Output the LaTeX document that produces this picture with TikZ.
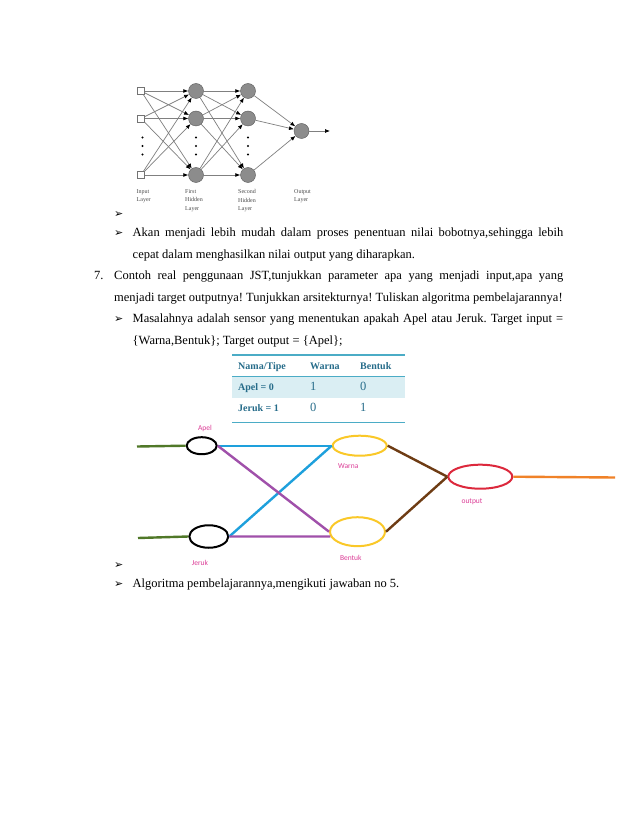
\documentclass[tikz,border=0pt]{standalone}
\usepackage{fontspec}
\setmainfont{Liberation Serif}
\newfontfamily\dejavu{DejaVu Sans}
\newfontfamily\calibri{Carlito}
\usepackage{tikz}
\usetikzlibrary{arrows.meta, shapes.geometric}
\frenchspacing

\definecolor{tabline}{RGB}{75,172,198}
\definecolor{tabtext}{RGB}{38,108,138}
\definecolor{tabshade}{RGB}{218,238,243}
\definecolor{leafgreen}{RGB}{80,120,40}
\definecolor{skyblue}{RGB}{30,160,220}
\definecolor{grape}{RGB}{160,80,170}
\definecolor{gold}{RGB}{250,200,40}
\definecolor{rust}{RGB}{110,60,20}
\definecolor{cherry}{RGB}{220,40,60}
\definecolor{tangerine}{RGB}{240,130,40}
\definecolor{pinklabel}{RGB}{220,60,150}

\begin{document}
\begin{tikzpicture}[
  x=1pt, y=-1pt,
  font=\fontsize{12.5}{21.5}\selectfont,
  txt/.style={anchor=base west, inner sep=0pt},
  bul/.style={anchor=base west, inner sep=0pt, font=\dejavu\fontsize{11}{11}\selectfont},
  inp/.style={rectangle, draw=black!55, fill=white, minimum size=7pt, inner sep=0pt},
  neu/.style={circle, draw=black!65, fill=black!45, minimum size=15pt, inner sep=0pt},
  layer/.style={anchor=north west, inner sep=0pt, align=left, text=black!70,
                font=\fontsize{6}{8.3}\selectfont},
  arr/.style={-{Latex[length=5pt, width=4pt, color=black]}, draw=black!50, line width=0.7pt},
  cell/.style={anchor=base west, inner sep=0pt, text=tabtext},
  ell/.style={ellipse, line width=2pt, inner sep=0pt},
  wire/.style={line width=2.4pt},
  tag/.style={inner sep=0pt, text=pinklabel, font=\calibri\fontsize{7.5}{7.5}\selectfont}
]
\useasboundingbox (0,0) rectangle (638,826);
\fill[white] (0,0) rectangle (638,826);

% layered network
\foreach \i/\yy in {1/91,2/118.5,3/175} {
  \node[inp] (in\i) at (141,\yy) {};
  \node[neu] (ha\i) at (196,\yy) {};
  \node[neu] (hb\i) at (248,\yy) {};
}
\node[neu] (out) at (301.5,131) {};
\coordinate (outend) at (330,131);

\foreach \a in {1,2,3}
  \foreach \b in {1,2,3} {
    \draw[arr] (in\a) -- (ha\b);
    \draw[arr] (ha\a) -- (hb\b);
  }
\foreach \a in {1,2,3}
  \draw[arr] (hb\a) -- (out);
\draw[arr] (out) -- (outend);

\foreach \xx in {142.5,196,248}
  \foreach \yy in {137.5,146,154.5}
    \fill (\xx,\yy) circle (1.2pt);

\node[layer] (lin) at (136.5,189.5) {Input\\Layer};
\node[layer] (lh1) at (185,189.5) {First\\Hidden\\Layer};
\node[layer] (lh2) at (238,189.5) {Second\\Hidden\\Layer};
\node[layer] (lout) at (294,189.5) {Output\\Layer};

% text
\node[bul] (b1) at (114,217.5) {➢};
\node[bul] (b2) at (114,236.5) {➢};
\node[txt] (l1) at (132.5,236.5) {\makebox[430.5pt][s]{Akan menjadi lebih mudah dalam proses penentuan nilai bobotnya,sehingga lebih}};
\node[txt] (l2) at (132.5,258) {cepat dalam menghasilkan nilai output yang diharapkan.};
\node[txt] (n7) at (94,279.5) {7.};
\node[txt] (l3) at (114,279.5) {\makebox[449pt][s]{Contoh real penggunaan JST,tunjukkan parameter apa yang menjadi input,apa yang}};
\node[txt] (l4) at (114,301) {menjadi target outputnya! Tunjukkan arsitekturnya! Tuliskan algoritma pembelajarannya!};
\node[bul] (b3) at (114,322.5) {➢};
\node[txt] (l5) at (132.5,322.5) {\makebox[430.5pt][s]{Masalahnya adalah sensor yang menentukan apakah Apel atau Jeruk. Target input =}};
\node[txt] (l6) at (132.5,344) {\{Warna,Bentuk\}; Target output = \{Apel\};};

% table
\fill[tabshade] (232,377) rectangle (405,397.5);
\draw[tabline, line width=1.2pt] (232,355) -- (405,355);
\draw[tabline, line width=1.2pt] (232,376.5) -- (405,376.5);
\draw[tabline, line width=1.2pt] (232,422.5) -- (405,422.5);
\node[cell, font=\bfseries] (h1) at (238,369) {Nama/Tipe};
\node[cell, font=\bfseries] (h2) at (310,369) {Warna};
\node[cell, font=\bfseries] (h3) at (360,369) {Bentuk};
\node[cell, font=\bfseries] (r1) at (238,390) {Apel = 0};
\node[cell] (r1a) at (310,390) {1};
\node[cell] (r1b) at (360,390) {0};
\node[cell, font=\bfseries] (r2) at (238,411) {Jeruk = 1};
\node[cell] (r2a) at (310,411) {0};
\node[cell] (r2b) at (360,411) {1};

% apel / jeruk network
\node[ell, draw=black, minimum width=30pt, minimum height=17pt] (apel) at (201.7,445.7) {};
\node[ell, draw=black, minimum width=39pt, minimum height=22.5pt] (jeruk) at (208.8,536.5) {};
\node[ell, draw=gold, minimum width=54pt, minimum height=20pt] (warna) at (359.7,445.7) {};
\node[ell, draw=gold, minimum width=55pt, minimum height=29pt] (bentuk) at (357.5,531.7) {};
\node[ell, draw=cherry, minimum width=64pt, minimum height=24pt] (output) at (480.3,476.7) {};

\coordinate (apelin) at (137,446.5);
\coordinate (jerukin) at (138,538);
\coordinate (outline) at (615,477.5);

\draw[wire, leafgreen] (apelin) -- (apel.west);
\draw[wire, leafgreen] (jerukin) -- (jeruk.west);
\draw[wire, skyblue] (apel.east) -- (warna.west);
\draw[wire, skyblue] (warna.west) -- (jeruk.east);
\draw[wire, grape] (apel.east) -- (bentuk.west);
\draw[wire, grape] (jeruk.east) -- (bentuk.190);
\draw[wire, rust] (warna.east) -- (output.west);
\draw[wire, rust] (bentuk.east) -- (output.west);
\draw[wire, tangerine] (output.east) -- (outline);

\node[tag] (tapel) at (205,428.3) {Apel};
\node[tag] (tjeruk) at (200,563.3) {Jeruk};
\node[tag] (twarna) at (348.3,466) {Warna};
\node[tag] (tbentuk) at (350.8,558.3) {Bentuk};
\node[tag] (toutput) at (472,501.7) {output};

% closing lines
\node[bul] (b4) at (114,568.5) {➢};
\node[bul] (b5) at (114,587.5) {➢};
\node[txt] (l7) at (132.5,587.5) {Algoritma pembelajarannya,mengikuti jawaban no 5.};
\end{tikzpicture}
\end{document}
